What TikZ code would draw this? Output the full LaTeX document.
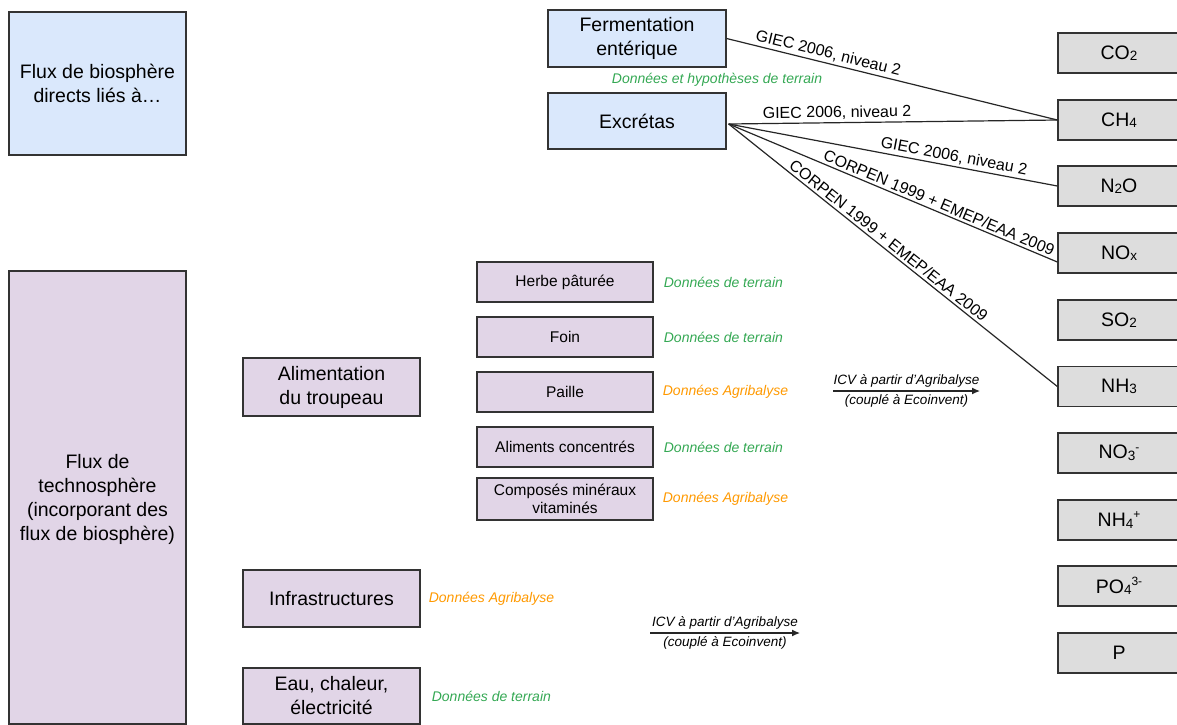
\documentclass[tikz,border=0pt]{standalone}
\usepackage{fontspec}
\setmainfont{Liberation Sans}
\usetikzlibrary{calc, positioning, arrows.meta}

\definecolor{bleubio}{HTML}{DAE8FC}
\definecolor{violettechno}{HTML}{E1D5E7}
\definecolor{grisgaz}{HTML}{DDDDDD}
\definecolor{vertterrain}{HTML}{34A853}
\definecolor{orangeagri}{HTML}{FF9900}
\definecolor{trait}{HTML}{333333}

% indices et exposants des formules
\newcommand{\indice}[1]{\raisebox{-0.15ex}{\fontsize{13.5}{14}\selectfont #1}}
\newcommand{\exposant}[1]{\raisebox{0.75ex}{\fontsize{12}{13}\selectfont #1}}

\tikzset{
    grandbox/.style={draw=trait, line width=1.3pt, align=center, inner sep=0pt,
        minimum width=177pt, font=\fontsize{19.5}{24}\selectfont},
    biobox/.style={grandbox, fill=bleubio},
    technobox/.style={grandbox, fill=violettechno},
    petitbox/.style={draw=trait, line width=1.3pt, fill=violettechno, align=center,
        inner sep=0pt, minimum width=176pt, minimum height=40pt,
        font=\fontsize{15.5}{18}\selectfont},
    gazbox/.style={draw=trait, line width=1.3pt, fill=grisgaz, inner sep=0pt,
        minimum width=122pt, minimum height=40pt, font=\fontsize{19.5}{24}\selectfont},
    terrain/.style={text=vertterrain, font=\fontsize{14}{16}\selectfont\itshape, inner sep=0pt},
    agri/.style={terrain, text=orangeagri},
    lien/.style={draw=black!85, line width=1.2pt},
    methode/.style={font=\fontsize{16}{18}\selectfont, sloped, above, inner sep=2.5pt},
    icv/.style={font=\fontsize{13.5}{16}\selectfont\itshape, inner sep=3pt},
}

\begin{document}
\begin{tikzpicture}[x=1pt, y=-1pt]
    \useasboundingbox (0,0) rectangle (1177,724);

    % colonne de gauche
    \node[biobox, minimum height=143pt] (fluxbio) at (97.5,83.5)
        {Flux de biosphère\\directs liés à…};
    \node[technobox, minimum height=453pt, text depth=-10pt] (fluxtechno) at (97.5,497.5)
        {Flux de\\technosphère\\(incorporant des\\flux de biosphère)};

    % flux directs
    \node[biobox, minimum width=178pt, minimum height=57pt] (ferment) at (637,38.5)
        {Fermentation\\entérique};
    \node[biobox, minimum width=178pt, minimum height=56pt] (excretas) at (637,121)
        {Excrétas};
    \node[terrain] (hypo) at (717,80) {Données et hypothèses de terrain};

    % emissions
    \node[gazbox] (co2) at (1119,53) {CO\indice{2}};
    \node[gazbox] (ch4) at (1119,120) {CH\indice{4}};
    \node[gazbox] (n2o) at (1119,186) {N\indice{2}O};
    \node[gazbox] (nox) at (1119,253) {NO\indice{x}};
    \node[gazbox] (so2) at (1119,320) {SO\indice{2}};
    \node[gazbox] (nh3) at (1119,386.5) {NH\indice{3}};
    \node[gazbox] (no3) at (1119,453) {NO\indice{3}\exposant{-}};
    \node[gazbox] (nh4) at (1119,520) {NH\indice{4}\exposant{+}};
    \node[gazbox] (po4) at (1119,586) {PO\indice{4}\exposant{3-}};
    \node[gazbox] (p) at (1119,653) {P};

    % technosphere
    \node[technobox, minimum height=58pt] (alim) at (331.5,387) {Alimentation\\du troupeau};
    \node[technobox, minimum height=57pt] (infra) at (331.5,598.5) {Infrastructures};
    \node[technobox, minimum height=56pt] (eau) at (331.5,696) {Eau, chaleur,\\électricité};

    \node[petitbox] (herbe) at (565,282) {Herbe pâturée};
    \node[petitbox] (foin) at (565,337) {Foin};
    \node[petitbox] (paille) at (565,392) {Paille};
    \node[petitbox] (aliments) at (565,447) {Aliments concentrés};
    \node[petitbox, minimum height=42pt] (mineraux) at (565,499)
        {Composés minéraux\\vitaminés};

    \node[terrain, right=10pt of herbe] (herbesrc) {Données de terrain};
    \node[terrain, right=10pt of foin] (foinsrc) {Données de terrain};
    \node[agri, right=9pt of paille] (paillesrc) {Données Agribalyse};
    \node[terrain, right=10pt of aliments] (alimentssrc) {Données de terrain};
    \node[agri, right=9pt of mineraux] (minerauxsrc) {Données Agribalyse};
    \node[agri, right=8pt of infra] (infrasrc) {Données Agribalyse};
    \node[terrain, right=11pt of eau] (eausrc) {Données de terrain};

    % methodes de calcul
    \draw[lien] (ferment.east) -- node[methode, pos=0.3] (giec1) {GIEC 2006, niveau 2} (ch4.west);
    \draw[lien] ($(excretas.east)+(2,3)$) -- node[methode, pos=0.33] (giec2) {GIEC 2006, niveau 2} (ch4.west);
    \draw[lien] ($(excretas.east)+(2,3)$) -- node[methode, pos=0.68] (giec3) {GIEC 2006, niveau 2} (n2o.west);
    \draw[lien] ($(excretas.east)+(2,3)$) -- node[methode, pos=0.63] (corpen1) {CORPEN 1999 + EMEP/EAA 2009}
        ($(nox.west)+(0,9)$);
    \draw[lien] ($(excretas.east)+(2,3)$) -- node[methode, pos=0.47] (corpen2) {CORPEN 1999 + EMEP/EAA 2009}
        (nh3.west);

    % ICV
    \coordinate (icvA) at (833,391);
    \coordinate (icvB) at (980,391);
    \draw[lien, -{Latex[length=8pt, width=7pt]}] (icvA) -- node[icv, above] (icvhautA) {ICV à partir d’Agribalyse}
        node[icv, below] (icvbasA) {(couplé à Ecoinvent)} (icvB);

    \coordinate (icvC) at (650,633);
    \coordinate (icvD) at (800,633);
    \draw[lien, -{Latex[length=8pt, width=7pt]}] (icvC) -- node[icv, above] (icvhautC) {ICV à partir d’Agribalyse}
        node[icv, below] (icvbasC) {(couplé à Ecoinvent)} (icvD);
\end{tikzpicture}
\end{document}
